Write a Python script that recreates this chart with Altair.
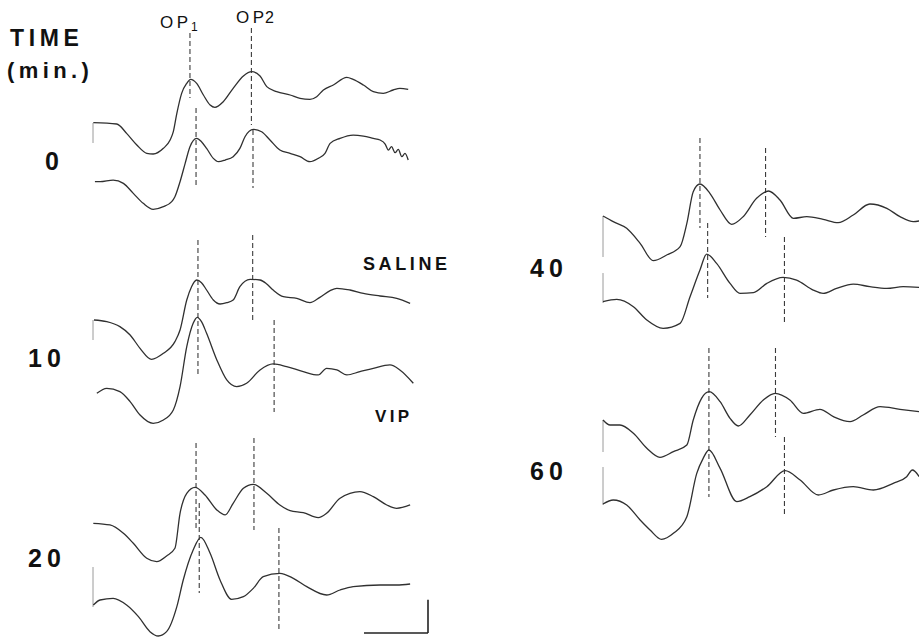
import altair as alt
import pandas as pd

# ---------------------------------------------------------------
# Oscillatory potentials, (time after flash in ms, amplitude in µV),
# amplitude measured from the first sample of each sweep.
# ---------------------------------------------------------------
SALINE_0 = [(0.1, 0.5), (7.4, -1.5), (10.5, -15.5), (13.7, -33), (16.8, -45.5), (18.8, -46.5),
            (22.0, -38), (24.1, -25.5), (25.1, -13), (26.2, 14.5), (27.7, 44.5), (29.3, 59.5),
            (30.5, 65.5), (32.4, 59.5), (34.5, 42), (36.6, 27), (38.1, 23.5), (40.7, 32),
            (43.8, 52), (47.0, 70.5), (49.6, 77), (52.2, 70.5), (54.3, 54.5), (57.4, 47),
            (61.6, 42), (64.7, 37), (67.8, 35.5), (69.9, 39.5), (72.0, 49.5), (75.1, 57),
            (79.3, 68.5), (81.3, 65.5), (84.5, 57), (87.6, 47), (90.7, 44.5), (93.8, 49.5),
            (95.9, 52), (98.5, 50.5)]
VIP_0 = [(0.6, 0), (2.2, 0), (6.3, 2.5), (9.5, -2.5), (12.6, -17.5), (15.7, -32.5), (18.8, -41.5),
         (22.0, -37.5), (24.6, -30), (25.6, -22.5), (27.2, 0), (28.8, 27.5), (30.3, 52.5),
         (32.4, 65), (33.9, 60), (35.5, 50), (37.6, 35), (39.2, 30), (41.3, 32.5), (43.8, 37.5),
         (45.9, 50), (47.5, 67.5), (50.1, 78.5), (52.7, 75), (55.3, 62.5), (58.4, 47.5),
         (61.6, 42.5), (64.7, 37.5), (67.8, 30), (70.4, 35), (72.5, 42.5), (74.1, 57.5),
         (77.2, 65), (81.3, 70), (84.5, 68.5), (87.6, 65), (89.7, 62.5), (91.3, 56.5),
         (92.3, 47.5), (93.3, 52.5), (94.4, 43.5), (95.4, 48.5), (96.5, 37.5), (97.5, 42.5),
         (98.5, 32.5)]
SALINE_10 = [(0.3, 0), (4.3, -2.5), (8.4, -10), (11.6, -22.5), (14.7, -42.5), (18.3, -59),
             (22.0, -50), (25.6, -32.5), (27.2, -15), (29.3, 30), (30.8, 50), (32.4, 60),
             (33.9, 56), (35.5, 45), (37.6, 30), (39.7, 24), (41.8, 26), (43.8, 30), (45.9, 50),
             (49.1, 61), (52.2, 60), (54.3, 54), (56.3, 45), (59.5, 35), (63.7, 32.5), (67.8, 26),
             (70.9, 34), (74.1, 44), (76.2, 47.5), (80.3, 45), (84.5, 40), (89.7, 36),
             (94.9, 32.5), (99.1, 25)]
VIP_10 = [(1.2, 0), (4.3, 7.5), (8.4, 2.5), (11.6, -12.5), (14.7, -32.5), (18.8, -45), (22.0, -40),
          (25.1, -25), (27.2, 10), (29.3, 70), (31.3, 105), (32.6, 114), (33.9, 107.5),
          (35.5, 90), (38.7, 50), (41.8, 20), (44.9, 10), (48.0, 15), (52.2, 35), (56.3, 44),
          (60.5, 40), (65.7, 32.5), (70.4, 27.5), (73.0, 37.5), (76.2, 35), (79.3, 27.5),
          (83.4, 32.5), (87.6, 37.5), (92.8, 42.5), (95.9, 35), (100.1, 15)]
SALINE_20 = [(0.1, 0), (5.3, -2.5), (9.5, -15), (12.6, -30), (16.8, -52.5), (19.9, -57.5),
             (23.0, -49), (25.6, -37.5), (27.2, 15), (29.3, 45), (31.9, 54), (35.0, 42.5),
             (38.7, 20), (41.3, 12.5), (43.8, 30), (47.0, 52.5), (50.1, 58.5), (54.3, 45),
             (58.4, 27.5), (61.6, 19), (65.7, 16), (70.4, 8.5), (73.0, 15), (77.2, 37.5),
             (83.4, 47.5), (87.6, 40), (91.8, 27.5), (94.9, 22.5), (99.1, 27.5)]
VIP_20 = [(0.1, 0), (2.2, 7.5), (6.3, 10), (10.5, 0), (14.2, -17.5), (17.8, -40), (20.4, -46.5),
          (23.0, -40), (26.2, -2.5), (28.2, 37.5), (31.3, 82.5), (33.7, 101.5), (36.6, 77.5),
          (39.7, 37.5), (43.3, 8.5), (47.0, 12.5), (50.1, 25), (53.2, 42.5), (58.4, 47.5),
          (62.6, 40), (66.8, 27.5), (73.0, 15), (77.2, 22.5), (81.3, 27.5), (89.7, 30),
          (94.9, 30), (99.1, 31.5)]
SALINE_40 = [(0, 0), (3.2, -8.5), (7.4, -18.5), (11.6, -41), (15.7, -67), (19.9, -58.5),
             (24.1, -46), (26.2, -11), (28.2, 36.5), (30.3, 48), (33.4, 34), (36.6, 9),
             (40.2, -12.5), (43.8, -1), (48.0, 26.5), (51.7, 37.5), (55.3, 24), (59.5, -3.5),
             (63.7, -1), (68.8, -5), (73.5, -10), (78.2, 1.5), (83.4, 18), (88.7, 11.5),
             (92.8, -1), (97.0, -8.5), (98.8, -7.5)]
VIP_40 = [(0, 0), (4.3, 3.5), (9.5, -7.5), (13.7, -27.5), (18.8, -40), (24.1, -32.5), (27.2, 7.5),
          (30.3, 47.5), (32.4, 71.5), (35.5, 57.5), (39.7, 27.5), (42.8, 12.5), (47.0, 13.5),
          (51.2, 27.5), (56.3, 36.5), (60.5, 32.5), (65.7, 17.5), (68.8, 12.5), (73.0, 20),
          (78.2, 26.5), (83.4, 22.5), (88.7, 20), (93.8, 22.5), (98.8, 21.5)]
SALINE_60 = [(0, 0), (2.2, -7.5), (5.3, -7.5), (9.5, -20), (13.7, -42.5), (17.8, -56),
             (22.0, -47.5), (26.2, -37.5), (28.2, 0), (30.8, 32.5), (33.2, 42.5), (36.6, 27.5),
             (39.7, 2.5), (42.3, -9), (45.9, 7.5), (50.1, 30), (53.8, 40), (58.4, 30),
             (62.6, 10), (67.8, 16), (72.0, 5), (77.2, -2.5), (81.3, 7.5), (86.6, 20),
             (92.8, 16), (98.8, 12.5)]
VIP_60 = [(0, 0), (3.2, 6), (7.4, -1.5), (11.6, -24), (14.7, -39), (18.3, -53), (22.0, -44),
          (26.2, -19), (29.3, 46), (31.3, 68.5), (33.1, 81), (36.6, 53.5), (41.8, 3.5),
          (45.9, 11), (51.2, 26), (56.9, 50), (61.6, 36), (67.3, 13.5), (72.0, 21),
          (78.2, 26), (84.5, 21), (90.7, 31), (94.9, 41), (96.7, 51), (98.8, 41)]

# OP1 / OP2 peak latencies (ms) for each sweep
OP1_LATENCY = {"s0": 30.3, "v0": 32.2, "s10": 32.8, "v10": 32.8, "s20": 32.2,
               "v20": 33.2, "s40": 30.3, "v40": 32.7, "s60": 33.1, "v60": 33.1}
OP2_LATENCY = {"s0": 49.5, "v0": 50.0, "s10": 49.9, "v10": 56.6, "s20": 50.3,
               "v20": 58.1, "s40": 50.8, "v40": 56.7, "s60": 53.9, "v60": 56.7}

TIME_LABELS = ["0", "10", "20", "40", "60"]
SCALE_MS, SCALE_UV = 20, 50

# ---------------------------------------------------------------
# Page layout
# ---------------------------------------------------------------
W, H = 919, 637
PX_PER_MS = 3.2
PX_PER_UV = 2 / 3
COL_X = {"left": 93, "right": 603}

# key, samples, column, baseline (px from top)
SWEEPS = [
    ("s0", SALINE_0, "left", 123), ("v0", VIP_0, "left", 181.7),
    ("s10", SALINE_10, "left", 320), ("v10", VIP_10, "left", 393.3),
    ("s20", SALINE_20, "left", 523.3), ("v20", VIP_20, "left", 605),
    ("s40", SALINE_40, "right", 216), ("v40", VIP_40, "right", 301.7),
    ("s60", SALINE_60, "right", 420), ("v60", VIP_60, "right", 504),
]
# dashed latency markers: (top, bottom) in µV around each sweep's baseline
OP1_SPAN = {"s0": (135, 37.5), "v0": (110.5, -9.5), "s10": (120, 22.5), "v10": (132.5, 27.5),
            "s20": (120.5, -10), "v20": (153, 18), "s40": (117, -18), "v40": (118, 5.5),
            "s60": (108, -15), "v60": (111, 10.5)}
OP2_SPAN = {"s0": (142.5, -3), "v0": (77.5, -9.5), "s10": (127.5, -4.5), "v10": (110, -28),
            "s20": (128, -10), "v20": (115.5, -40.5), "s40": (102, -31.5), "v40": (97, -32),
            "s60": (108, -25.5), "v60": (100.5, -16.5)}
# stimulus marks at sweep onset: (top, bottom) in µV
ONSET_SPAN = {"s0": (0, -30), "s10": (0, -30), "v20": (57, -3), "s40": (0, -61.5),
              "v40": (43, -2), "s60": (0, -48), "v60": (55.5, -1.5)}
SCALE_CORNER = (428, 633)


def page_x(col, ms):
    return COL_X[col] / PX_PER_MS + ms


def page_y(base_px, uv):
    return -base_px / PX_PER_UV + uv


rows, markers, onsets = [], [], []
for key, samples, col, base in SWEEPS:
    for t, a in samples:
        rows.append({"sweep": key, "t": t, "x": page_x(col, t), "y": page_y(base, a)})
    for lat, span in ((OP1_LATENCY[key], OP1_SPAN[key]), (OP2_LATENCY[key], OP2_SPAN[key])):
        markers.append({"x": page_x(col, lat), "y": page_y(base, span[0]),
                        "y2": page_y(base, span[1])})
    if key in ONSET_SPAN:
        top, bot = ONSET_SPAN[key]
        onsets.append({"x": page_x(col, 0), "y": page_y(base, top), "y2": page_y(base, bot)})

traces = pd.DataFrame(rows)
marks = pd.DataFrame(markers)
onset = pd.DataFrame(onsets)

cx = SCALE_CORNER[0] / PX_PER_MS
cy = -SCALE_CORNER[1] / PX_PER_UV
bar = pd.DataFrame([
    {"x": cx - SCALE_MS, "x2": cx, "y": cy, "y2": cy},
    {"x": cx, "x2": cx, "y": cy, "y2": cy + SCALE_UV},
])

XS = alt.Scale(domain=[0, W / PX_PER_MS], nice=False, zero=False)
YS = alt.Scale(domain=[-H / PX_PER_UV, 0], nice=False, zero=False)
X = alt.X("x:Q", scale=XS, axis=None)
Y = alt.Y("y:Q", scale=YS, axis=None)

lines = alt.Chart(traces).mark_line(
    interpolate="monotone", color="#303030", strokeWidth=1.3
).encode(x=X, y=Y, detail="sweep:N", order="t:Q")

dashes = alt.Chart(marks).mark_rule(
    color="#3c3c3c", strokeWidth=1.1, strokeDash=[5, 3]
).encode(x=X, y=Y, y2="y2:Q")

ticks = alt.Chart(onset).mark_rule(color="#9a9a9a", strokeWidth=1).encode(x=X, y=Y, y2="y2:Q")

scalebar = alt.Chart(bar).mark_rule(color="#222222", strokeWidth=1.6).encode(
    x=X, x2="x2:Q", y=Y, y2="y2:Q")

SP = "\u2009"


def spaced(s):
    return SP.join(s)


def label(text, px, py, size, weight="bold", font="Liberation Sans"):
    return alt.Chart(pd.DataFrame({"label": [text]})).mark_text(
        align="left", baseline="alphabetic", fontSize=size, fontWeight=weight,
        font=font, color="#111111"
    ).encode(x=alt.value(px), y=alt.value(py), text="label:N")


texts = [
    label(spaced("TIME"), 10, 46, 23),
    label(spaced("(min.)"), 7, 78, 22),
    label(spaced(TIME_LABELS[0]), 45, 170, 25),
    label(spaced(TIME_LABELS[1]), 28, 367, 25),
    label(spaced(TIME_LABELS[2]), 28, 567, 25),
    label(spaced(TIME_LABELS[3]), 530, 277, 25),
    label(spaced(TIME_LABELS[4]), 530, 480, 25),
    label(spaced("SALINE"), 363, 270, 18),
    label(spaced("VIP"), 375, 422, 17),
    label(spaced("OP"), 160, 28, 17, "normal"),
    label("1", 191, 31, 12, "normal"),
    label(spaced("OP"), 236, 23, 17, "normal"),
    label("2", 265, 23, 16, "normal"),
]

chart = alt.layer(ticks, dashes, lines, scalebar, *texts).properties(
    width=W, height=H, padding=0, autosize=alt.AutoSizeParams(type="none"),
    background="white"
).configure_view(stroke=None)

chart.save("out.html", embed_options={"renderer": "svg", "actions": False})
